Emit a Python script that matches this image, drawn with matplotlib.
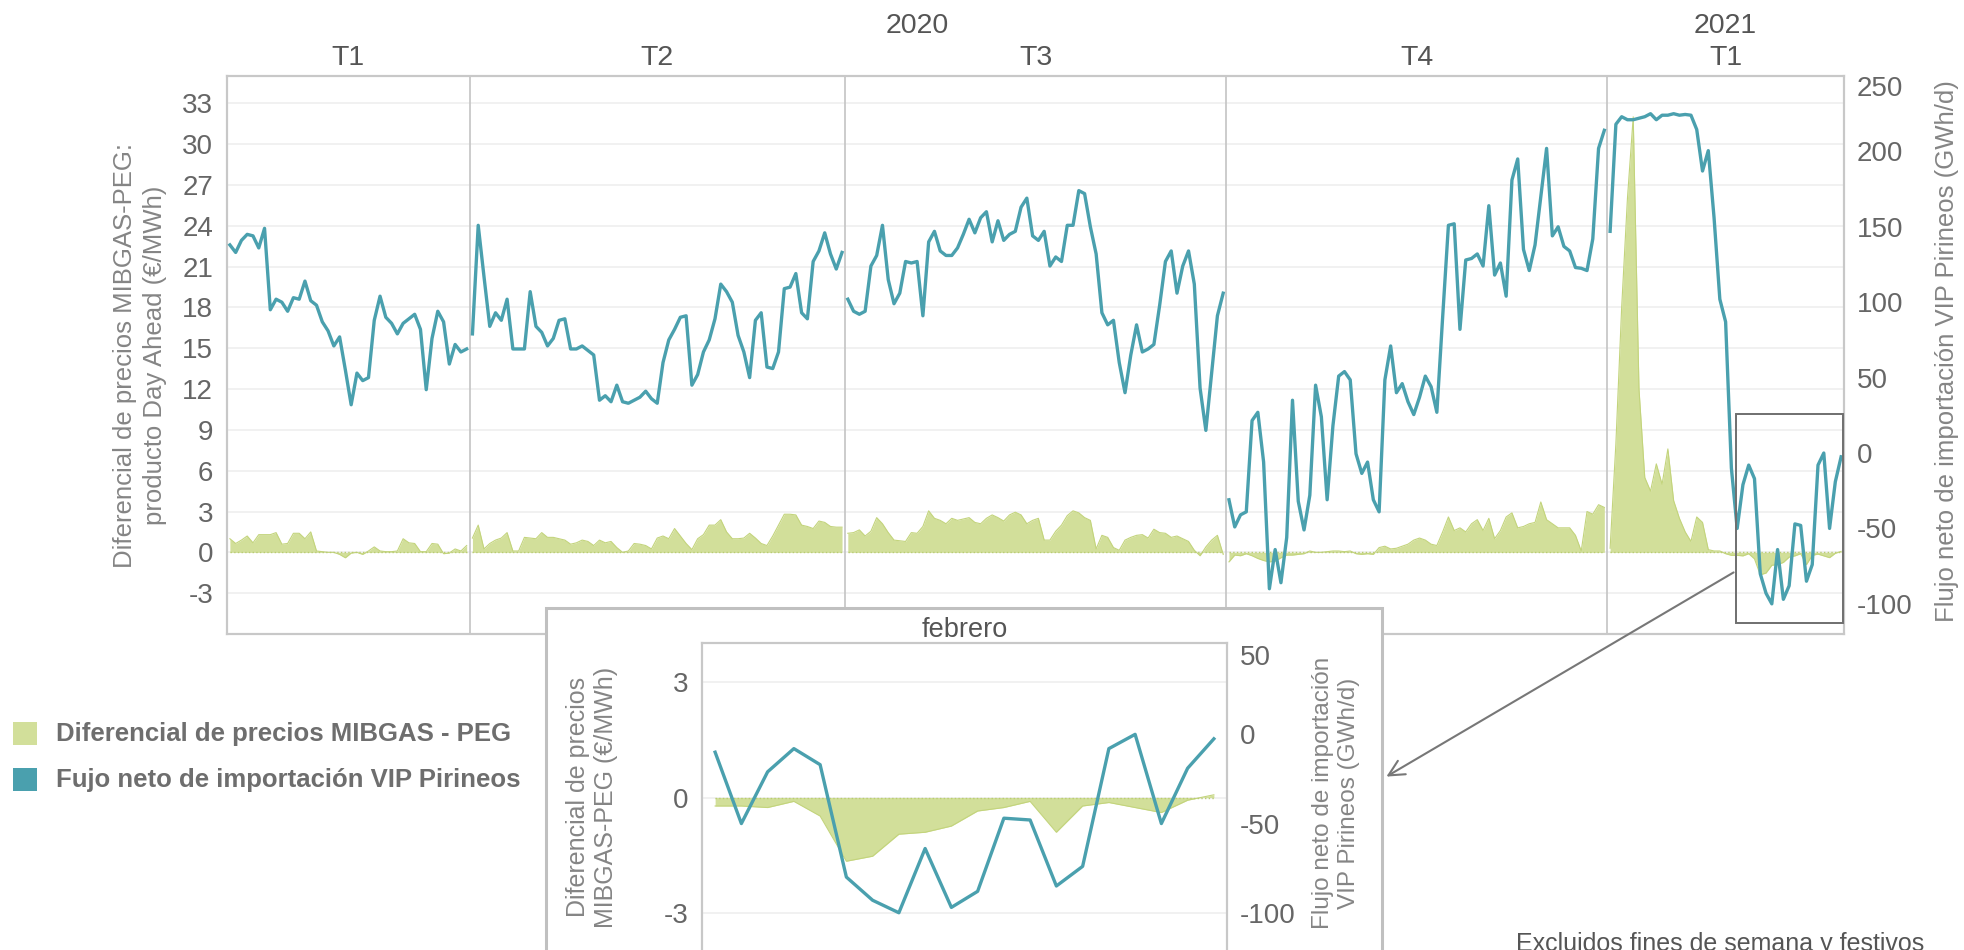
import numpy as np
import matplotlib
matplotlib.use('Agg')
import matplotlib.pyplot as plt
import matplotlib.patches as patches
from matplotlib import font_manager as fm


def pick_font(families, default='DejaVu Sans'):
    for fam in families:
        try:
            fm.findfont(fm.FontProperties(family=fam), fallback_to_default=False)
            return fam
        except Exception:
            pass
    return default


SANS = pick_font(['Liberation Sans', 'Arial'])
plt.rcParams['font.family'] = [SANS, 'DejaVu Sans']
plt.rcParams['axes.unicode_minus'] = False

# ---- data (business days, one list per quarter) ----
quarters = ['T1', 'T2', 'T3', 'T4', 'T1']
years = ['2020', '2021']
quarters_per_year = [4, 1]

# net import flow VIP Pirineos (GWh/d), right axis
flow_2020_t1 = [138, 133, 141, 145, 144, 136, 149, 95, 102, 100, 94, 103, 102, 114, 101, 98,
                87, 81, 71, 77, 55, 32, 53, 48, 50, 88, 104, 90, 86, 79, 86, 89, 92, 82, 42,
                76, 94, 87, 59, 72, 67, 69]
flow_2020_t2 = [79, 151, 117, 84, 93, 88, 102, 69, 69, 69, 107, 84, 80, 71, 76, 88, 89, 69, 69,
                71, 68, 65, 35, 38, 34, 45, 34, 33, 35, 37, 41, 36, 33, 60, 75, 82, 90, 91, 45,
                52, 67, 75, 89, 112, 107, 100, 78, 67, 50, 88, 93, 57, 56, 67, 109, 110, 119,
                93, 89, 127, 134, 146, 132, 122, 133]
flow_2020_t3 = [102, 94, 92, 94, 124, 131, 151, 115, 99, 106, 127, 126, 127, 91, 140, 147, 134,
                131, 131, 136, 145, 155, 146, 156, 160, 140, 154, 141, 145, 147, 163, 169, 144,
                141, 147, 124, 130, 127, 151, 151, 174, 172, 150, 132, 93, 85, 88, 60, 40, 65,
                85, 67, 69, 72, 98, 127, 134, 106, 124, 134, 112, 43, 15, 53, 91, 106]
flow_2020_t4 = [-31, -49, -41, -39, 21.5, 27, -6, -90, -64, -86, -56, 35, -32, -51, -28, 45, 24,
                -31, 18, 51, 54, 48.5, -0.5, -13.5, -6, -31, -39, 48.5, 71, 40, 46, 34, 25.5,
                37, 51, 44, 27, 90, 151, 152, 82, 128, 129, 132, 124, 164, 118, 126, 104, 181,
                195, 135, 121, 138, 170, 202, 144, 150, 137, 134, 123, 122.5, 121, 142, 202, 214]
flow_2021_t1 = [147, 218, 223, 221, 221, 222, 223, 225, 221, 224, 224, 225, 224, 224.5, 224,
                214.5, 187, 200.5, 156, 102, 87,
                -10, -50, -21, -8, -17, -80, -93, -100, -64, -97, -88, -47, -48, -85, -74, -8,
                0, -50, -19, -2.5]

# price spread MIBGAS - PEG (EUR/MWh), left axis
diff_2020_t1 = [1.0, 0.65, 0.9, 1.2, 0.7, 1.3, 1.3, 1.3, 1.45, 0.6, 0.65, 1.4, 1.4, 1.0, 1.5,
                0.1, 0.05, 0.0, 0.0, -0.15, -0.4, -0.05, 0.0, -0.15, 0.1, 0.4, 0.1, 0.05, 0.05,
                0.1, 1.0, 0.7, 0.65, 0.05, 0.05, 0.65, 0.6, -0.1, -0.05, 0.25, 0.1, 0.5]
diff_2020_t2 = [1.05, 2.0, 0.25, 0.65, 0.9, 1.05, 1.45, 0.1, 0.1, 1.1, 1.05, 1.0, 1.45, 1.1, 1.1,
                1.0, 0.9, 0.6, 0.7, 0.9, 0.8, 0.5, 0.9, 0.7, 0.8, 0.35, 0.0, 0.1, 0.65, 0.6, 0.5,
                0.25, 1.05, 1.2, 1.0, 1.75, 1.2, 0.65, 0.2, 1.0, 1.3, 2.0, 2.0, 2.4, 1.5, 1.0,
                1.0, 1.05, 1.4, 1.05, 0.65, 0.5, 1.2, 2.0, 2.8, 2.8, 2.75, 2.0, 1.9, 1.75, 2.3,
                2.2, 1.9, 1.85, 1.85]
diff_2020_t3 = [1.4, 1.45, 1.65, 1.2, 1.55, 2.55, 2.1, 1.45, 0.9, 0.85, 0.8, 1.45, 1.4, 1.9,
                3.05, 2.5, 2.35, 2.1, 2.5, 2.35, 2.45, 2.55, 2.2, 2.1, 2.5, 2.75, 2.55, 2.3, 2.75,
                2.95, 2.75, 2.1, 2.35, 2.5, 0.9, 0.9, 1.55, 2.0, 2.7, 3.05, 2.9, 2.55, 2.35, 0.25,
                1.25, 1.1, 0.35, 0.15, 0.9, 1.1, 1.25, 1.3, 1.05, 1.7, 1.45, 1.4, 1.1, 1.2, 1.0,
                0.8, 0.15, -0.25, 0.4, 0.9, 1.25, -0.15]
diff_2020_t4 = [-0.7, -0.2, -0.25, -0.1, -0.25, -0.45, -0.6, -0.7, -0.65, -0.4, -0.2, -0.2,
                -0.15, -0.1, 0.1, 0.0, 0.0, 0.05, 0.1, 0.1, 0.05, 0.1, -0.1, -0.15, -0.1, -0.15,
                0.35, 0.45, 0.25, 0.3, 0.45, 0.6, 0.9, 1.05, 0.9, 0.6, 0.5, 1.5, 2.6, 1.6, 1.8,
                1.5, 2.1, 2.4, 1.6, 2.5, 1.0, 1.6, 2.6, 2.9, 1.8, 1.9, 2.1, 2.2, 3.7, 2.4, 2.1,
                1.8, 1.8, 1.8, 1.25, 0.1, 3.0, 2.8, 3.5, 3.3]
diff_2021_t1 = [0.3, 8, 18, 26, 32, 12, 5.5, 4.5, 6.5, 5, 7.6, 3.8, 2.5, 1.5, 0.8, 2.6, 2.2,
                0.2, 0.1, 0.1, -0.1,
                -0.22, -0.22, -0.26, -0.1, -0.48, -1.65, -1.52, -0.95, -0.9, -0.74, -0.35,
                -0.26, -0.1, -0.9, -0.22, -0.13, -0.26, -0.39, -0.07, 0.07]
feb_start = 21  # first February 2021 point inside flow_2021_t1 / diff_2021_t1

flows = [flow_2020_t1, flow_2020_t2, flow_2020_t3, flow_2020_t4, flow_2021_t1]
diffs = [diff_2020_t1, diff_2020_t2, diff_2020_t3, diff_2020_t4, diff_2021_t1]

left_ticks = list(range(-3, 34, 3))
right_ticks = list(range(-100, 251, 50))
inset_left_ticks = [-3, 0, 3]
inset_right_ticks = [-100, -50, 0, 50]

legend_labels = ['Diferencial de precios MIBGAS - PEG', 'Fujo neto de importación VIP Pirineos']
note = 'Excluidos fines de semana y festivos'

# ---- style ----
TEAL = '#4aa0ae'
GREEN = '#d2df9a'
GREEN_EDGE = '#c3d47c'
FRAME = '#c8c8c8'
GRID = '#efefef'
TICK_C = '#666666'
LABEL_C = '#858585'
HEAD_C = '#555555'

W, H = 1964, 950
fig = plt.figure(figsize=(W / 100, H / 100), dpi=100)


def px_rect(x0, y0, x1, y1):
    # pixel box (top-left origin) -> figure fraction rect
    return [x0 / W, 1 - y1 / H, (x1 - x0) / W, (y1 - y0) / H]


def style_axes(a_left, a_right, lticks, rticks, size):
    a_left.set_yticks(lticks, labels=[str(t) for t in lticks])
    a_right.set_yticks(rticks, labels=[str(t) for t in rticks])
    a_left.set_xticks([])
    a_left.yaxis.grid(True, color=GRID, lw=1.2)
    a_left.set_axisbelow(True)
    a_left.tick_params(axis='y', length=0, pad=10, labelsize=size, labelcolor=TICK_C)
    a_right.tick_params(axis='y', length=0, pad=9, labelsize=size, labelcolor=TICK_C)
    # top right label sits at the frame edge: hang it below
    a_right.get_yticklabels()[-1].set_va('top')
    for a in (a_left, a_right):
        for sp in a.spines.values():
            sp.set_color(FRAME)
            sp.set_linewidth(1.5)


ax = fig.add_axes(px_rect(227, 76, 1844, 634))
ax2 = ax.twinx()

counts = [len(q) for q in flows]
starts = np.concatenate([[0], np.cumsum(counts)])
total = starts[-1]

for i in range(len(flows)):
    x = starts[i] + np.arange(counts[i]) + 0.5
    d = np.array(diffs[i])
    ax.fill_between(x, 0, d, color=GREEN, lw=0, zorder=2)
    ax.plot(x, d, color=GREEN_EDGE, lw=0.8, zorder=3)
    ax.plot([x[0], x[-1]], [0, 0], ls=':', color='#b9cc72', lw=1.0, zorder=3)
    ax2.plot(x, flows[i], color=TEAL, lw=2.4, solid_joinstyle='round', zorder=4)

for s in starts[1:-1]:
    ax.axvline(s, color=FRAME, lw=1.3, zorder=1)

ax.set_xlim(0, total)
ax.set_ylim(-6, 35)
ax2.set_ylim(-120, 250)
style_axes(ax, ax2, left_ticks, right_ticks, 20)

# quarter / year headers
tr = ax.get_xaxis_transform()
for i, q in enumerate(quarters):
    ax.text((starts[i] + starts[i + 1]) / 2, 1.032, q, transform=tr, ha='center',
            va='center', fontsize=20.5, color=HEAD_C)
k = 0
for y, n in zip(years, quarters_per_year):
    ax.text((starts[k] + starts[k + n]) / 2, 1.090, y, transform=tr, ha='center',
            va='center', fontsize=20.5, color=HEAD_C)
    k += n

fig.text(140 / W, 1 - 355 / H, 'Diferencial de precios MIBGAS-PEG:\nproducto Day Ahead (€/MWh)',
         rotation=90, ha='center', va='center', multialignment='center',
         fontsize=18.5, color=LABEL_C, linespacing=1.3)
fig.text(1947 / W, 1 - 351 / H, 'Flujo neto de importación VIP Pirineos (GWh/d)',
         rotation=90, ha='center', va='center', fontsize=18.5, color=LABEL_C)

# highlight box around February 2021
box = patches.Rectangle((261.3, -113), 18.5, 139, fill=False, ec='#6f6f6f', lw=1.4, zorder=6)
ax2.add_patch(box)

# inset frame
frame = patches.Rectangle((545.5 / W, -0.05), (1382 - 545.5) / W, 1.05 - 608 / H,
                          transform=fig.transFigure, fc='white', ec='#c0c0c0', lw=2.2,
                          zorder=1)
fig.add_artist(frame)

axi = fig.add_axes(px_rect(702, 643, 1227, 952), zorder=3)
axi2 = axi.twinx()
feb_flow = flow_2021_t1[feb_start:]
feb_diff = np.array(diff_2021_t1[feb_start:])
xi = np.arange(len(feb_flow)) + 0.5
axi.fill_between(xi, 0, feb_diff, color=GREEN, lw=0, zorder=2)
axi.plot(xi, feb_diff, color=GREEN_EDGE, lw=0.8, zorder=3)
axi.plot([xi[0], xi[-1]], [0, 0], ls=':', color='#b9cc72', lw=1.0, zorder=3)
axi2.plot(xi, feb_flow, color=TEAL, lw=2.4, zorder=4)
axi.set_xlim(0, len(feb_flow))
axi.set_ylim(-4, 4)
axi2.set_ylim(-122, 51.2)
style_axes(axi, axi2, inset_left_ticks, inset_right_ticks, 20)
axi.set_title('febrero', fontsize=19.5, color=HEAD_C, pad=4)

fig.text(592 / W, 1 - 797 / H, 'Diferencial de precios\nMIBGAS-PEG (€/MWh)', rotation=90,
         ha='center', va='center', multialignment='center', fontsize=18, color=LABEL_C,
         linespacing=1.2, zorder=4)
fig.text(1336 / W, 1 - 793 / H, 'Flujo neto de importación\nVIP Pirineos (GWh/d)', rotation=90,
         ha='center', va='center', multialignment='center', fontsize=17.5, color=LABEL_C,
         linespacing=1.2, zorder=4)

# connector arrow from box to inset
fig.add_artist(patches.FancyArrowPatch((1736 / W, 1 - 571 / H), (1384 / W, 1 - 778 / H),
                                       transform=fig.transFigure, arrowstyle='->',
                                       mutation_scale=28, color='#777777', lw=1.5, zorder=5))

# legend
for j, (lab, col) in enumerate(zip(legend_labels, [GREEN, TEAL])):
    yc = 733.5 + 46 * j
    fig.add_artist(patches.Rectangle((13 / W, 1 - (yc + 11.5) / H), 24 / W, 23 / H,
                                     transform=fig.transFigure, fc=col, ec='none'))
    fig.text(56 / W, 1 - yc / H, lab, ha='left', va='center', fontsize=18.5,
             fontweight='bold', color='#6e6e6e')

fig.text(1924 / W, 1 - 944 / H, note, ha='right', va='center', fontsize=18, color=HEAD_C)

fig.savefig('out.png', dpi=100, facecolor='white')
